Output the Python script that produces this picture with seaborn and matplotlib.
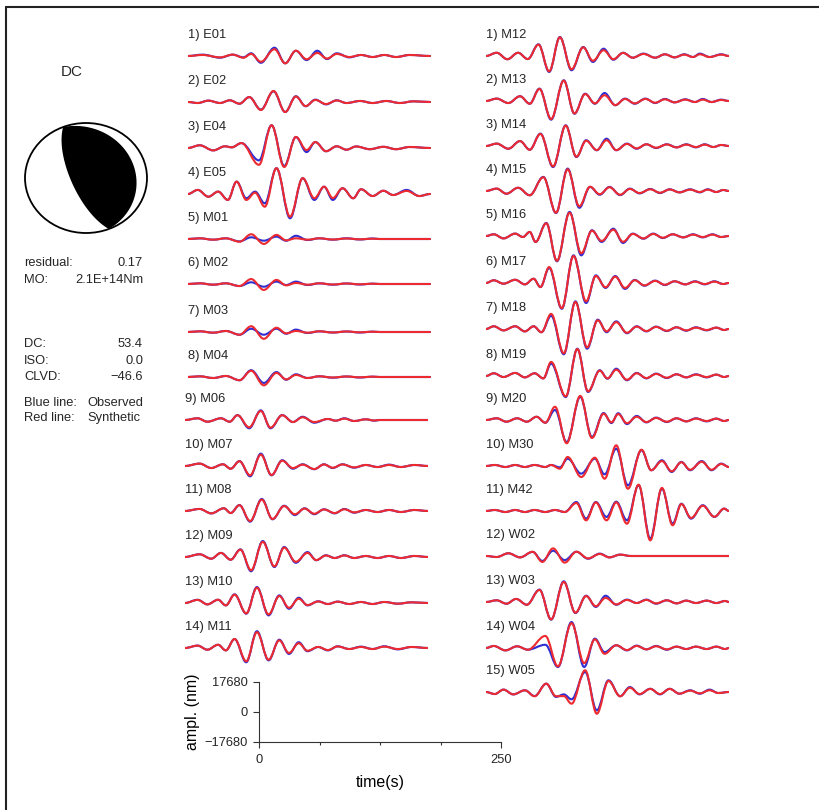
import numpy as np
import matplotlib
matplotlib.use("Agg")
import matplotlib.pyplot as plt
from matplotlib.path import Path
from matplotlib.patches import PathPatch, Circle
from matplotlib.lines import Line2D
import seaborn as sns

# ---- mechanism (DC part) ----
dc_strike = [158, 338]
dc_dip = [70, 20]

info_left = ["residual:", "MO:", "DC:", "ISO:", "CLVD:"]
info_right = ["0.17", "2.1E+14Nm", "53.4", "0.0", "\u221246.6"]

# ---- waveforms: extrema, time (s) / amplitude (nm) ----
e01_t = [0, 15, 33, 46, 57, 65, 75, 89, 100, 111, 122, 133, 143, 153, 166, 178, 190, 202, 214, 228, 249]
e01_obs = [0, 800, -1000, 800, -800, 1600, -4000, 4900, -4300, 3100, -2400, 3100, -1800, 1600, -800, 600, -600, 600, -600, 600, 0]
e01_syn = [0, 600, -800, 800, -1000, 1200, -3400, 4000, -4300, 3100, -1900, 1800, -1500, 1200, -600, 600, -600, 600, -600, 600, 0]

e02_t = [0, 10, 21, 33, 43, 53, 63, 75, 88, 100, 111, 121, 131, 142, 153, 163, 177, 190, 204, 218, 232, 249]
e02_obs = [0, -600, 800, -600, 1000, -1000, 2900, -4500, 6300, -5900, 3400, -2500, 1400, -1400, 1000, -600, 600, -600, 600, -600, 400, 0]
e02_syn = [0, -600, 800, -600, 1000, -1000, 2900, -4700, 6500, -5900, 3200, -2400, 1200, -1200, 900, -600, 600, -600, 600, -600, 400, 0]

e04_t = [0, 12, 26, 38, 45, 55, 73, 86, 99, 111, 122, 131, 142, 153, 163, 173, 187, 201, 214, 228, 249]
e04_obs = [0, 1600, -1400, 1000, 400, 2900, -7300, 13400, -10600, 6500, -2400, 3500, -1900, 1000, -1000, 900, -700, 700, -700, 600, 0]
e04_syn = [0, 1600, -1400, 1000, 400, 2900, -9900, 13400, -11200, 6500, -1200, 3500, -1900, 1000, -1000, 900, -700, 700, -700, 600, 0]

e05_t = [0, 10, 21, 31, 41, 50, 60, 69, 79, 91, 105, 118, 130, 140, 149, 159, 170, 178, 190, 201, 211, 225, 238, 249]
e05_obs = [0, 2400, -1600, 1400, -3500, 7300, -2500, 1400, -5500, 15200, -14300, 9300, -3500, 4300, -3500, 3400, -2500, 2800, -1200, 1900, -600, 2400, -1200, 0]
e05_syn = [0, 2400, -1600, 1400, -3500, 7300, -3500, 800, -7500, 15200, -13400, 9300, -2500, 4300, -2400, 3400, -2500, 2800, -1200, 1900, -600, 1800, -1200, 0]

m01_m04_t = [0, 12, 26, 39, 53, 65, 78, 91, 101, 111, 123, 135, 149, 163, 177, 190, 197, 249]
m01_obs = [0, 400, -400, 400, -1400, 1000, -1000, 1400, -1000, 1900, -600, 400, -400, 400, -300, 300, 0, 0]
m01_syn = [0, 400, -400, 400, -1600, 2800, -2900, 2400, -800, 400, -400, 400, -300, 300, -200, 200, 0, 0]
m02_obs = [0, 400, -400, 400, -1200, 1000, -1600, 1400, -600, 1400, -600, 400, -400, 300, -300, 200, 0, 0]
m02_syn = [0, 400, -400, 400, -1200, 2900, -3500, 2400, -800, 600, -400, 400, -300, 300, -200, 200, 0, 0]
m03_obs = [0, 400, -400, 600, -1600, 1900, -1600, 1900, -1000, 1400, -600, 400, -300, 300, -300, 200, 0, 0]
m03_syn = [0, 400, -400, 600, -1600, 3400, -4000, 2500, -800, 600, -400, 400, -300, 300, -200, 200, 0, 0]
m04_obs = [0, 400, -600, 600, -1900, 4000, -3500, 2900, -1600, 1600, -600, 400, -400, 300, -300, 200, 0, 0]
m04_syn = [0, 400, -600, 600, -1900, 3700, -4900, 2400, -1400, 1200, -600, 400, -300, 300, -200, 200, 0, 0]

m06_t = [0, 13, 23, 37, 46, 54, 66, 78, 88, 100, 111, 121, 133, 147, 155, 164, 174, 186, 195, 200, 250]
m06_obs = [0, 1000, -1000, 1000, -1000, 2900, -4900, 5700, -4900, 2900, -1200, 1900, -1600, 600, -400, 1000, -600, 400, -400, 0, 0]
m06_syn = [0, 1000, -1000, 1000, -1000, 2800, -4300, 5300, -4500, 2800, -1200, 1600, -1200, 600, -400, 800, -600, 400, -300, 0, 0]

m07_t = [0, 15, 27, 39, 47, 56, 67, 78, 89, 100, 111, 121, 133, 143, 152, 162, 174, 186, 198, 210, 222, 236, 250]
m07_obs = [0, 1400, -1200, 1000, -1600, 2900, -6100, 7300, -5500, 3400, -1600, 1000, -1900, 1000, -1200, 1000, -1000, 600, -600, 800, -600, 600, 0]
m07_syn = [0, 1400, -1200, 1000, -1600, 2800, -5500, 6700, -5300, 3100, -1200, 800, -1800, 900, -1000, 900, -800, 600, -600, 600, -600, 600, 0]

m08_t = [0, 15, 27, 40, 47, 56, 67, 79, 90, 102, 113, 123, 133, 143, 154, 164, 174, 186, 198, 210, 222, 236, 250]
m08_obs = [0, 1200, -1400, 1600, -1200, 3500, -6300, 7100, -4900, 3100, -2400, 1600, -1900, 1000, -1400, 1200, -1000, 600, -600, 600, -600, 600, 0]
m08_syn = [0, 1200, -1400, 1600, -1200, 3400, -5900, 6700, -4700, 2900, -1900, 1400, -1600, 900, -1200, 1000, -800, 600, -600, 600, -600, 600, 0]

m09_t = [0, 15, 27, 37, 47, 57, 68, 80, 92, 102, 114, 126, 135, 145, 154, 164, 174, 186, 198, 210, 222, 236, 250]
m09_obs = [0, 1600, -1000, 2400, -1600, 4500, -8400, 9400, -5900, 5900, -3400, 2900, -1900, 1000, -600, 1000, -600, 600, -600, 600, -600, 600, 0]
m09_syn = [0, 1600, -1000, 2400, -1600, 4300, -7800, 8900, -5500, 5500, -2800, 2400, -1800, 900, -600, 900, -600, 600, -600, 600, -600, 600, 0]

m10_m11_t = [0, 13, 23, 34, 42, 51, 63, 74, 86, 97, 107, 117, 126, 137, 147, 157, 169, 181, 193, 205, 219, 233, 250]
m10_obs = [0, 1900, -800, 1900, -1400, 5100, -6300, 9400, -7300, 4500, -3400, 3100, -1400, 1000, -600, 800, -600, 600, -600, 600, -400, 400, 0]
m10_syn = [0, 1800, -800, 1900, -1400, 4900, -6100, 9000, -6700, 4100, -2800, 2500, -1200, 900, -600, 800, -600, 600, -600, 600, -400, 400, 0]
m11_obs = [0, 1400, -1000, 1900, -1400, 5300, -8400, 9900, -7300, 4900, -3500, 3400, -1900, 600, -1400, 1000, -600, 800, -600, 1000, -800, 600, 0]
m11_syn = [0, 1400, -1000, 1900, -1400, 5300, -7800, 9300, -6900, 4500, -2900, 2800, -1600, 600, -1200, 900, -600, 600, -600, 800, -600, 600, 0]

m12_t = [0, 11, 22, 33, 43, 54, 65, 76, 88, 100, 110, 121, 131, 141, 151, 162, 174, 184, 194, 204, 213, 220, 230, 242, 250]
m12_obs = [0, 1900, -1900, 1900, -1800, 6900, -9400, 11200, -8400, 5300, -3500, 4300, -2200, 1900, -1000, 1400, -1000, 1000, -800, 1000, -600, 1400, -600, 1000, 0]
m12_syn = [0, 1900, -1900, 1900, -1800, 6700, -9000, 11000, -7800, 5100, -2800, 3400, -1900, 1800, -1000, 1200, -1000, 1000, -800, 800, -600, 1000, -600, 800, 0]

m13_t = [0, 11, 23, 35, 45, 55, 67, 80, 91, 102, 112, 122, 133, 143, 153, 164, 174, 184, 194, 205, 215, 223, 232, 242, 250]
m13_obs = [0, 1400, -1200, 2800, -1600, 7300, -11000, 12200, -7500, 4300, -1600, 4700, -2500, 1400, -1600, 1400, -1200, 1200, -800, 1000, -600, 1200, -600, 800, 0]
m13_syn = [0, 1400, -1200, 2800, -1600, 7100, -10600, 12000, -7300, 4100, -1400, 3400, -2400, 1200, -1400, 1200, -1000, 1000, -800, 800, -600, 800, -600, 600, 0]

m14_t = [0, 11, 23, 35, 45, 56, 69, 82, 93, 103, 114, 124, 134, 145, 155, 165, 175, 186, 196, 206, 216, 225, 234, 242, 250]
m14_obs = [0, 1400, -1600, 2900, -2200, 7300, -12400, 12200, -6500, 3400, -2500, 4300, -2500, 1400, -1600, 1000, -1200, 1000, -800, 1000, -800, 1000, -600, 600, 0]
m14_syn = [0, 1400, -1600, 2900, -2200, 7100, -12000, 12000, -6300, 3100, -2400, 3400, -2400, 1200, -1400, 1000, -1000, 900, -800, 800, -600, 800, -600, 600, 0]

m15_t = [0, 11, 21, 33, 45, 59, 72, 84, 96, 107, 117, 127, 138, 148, 158, 169, 179, 189, 199, 210, 220, 228, 237, 244, 250]
m15_obs = [0, 1400, -1600, 1900, -2500, 8300, -13000, 13200, -9900, 2400, -2200, 2400, -2400, 1400, -1400, 1200, -1200, 1000, -800, 1000, -800, 1000, -600, 600, 0]
m15_syn = [0, 1400, -1600, 1900, -2500, 8100, -12800, 12800, -9000, 2500, -1900, 2200, -2200, 1200, -1200, 1000, -1000, 900, -800, 800, -600, 800, -600, 600, 0]

m16_t = [0, 8, 18, 30, 38, 45, 51, 62, 73, 86, 98, 109, 119, 131, 141, 151, 162, 172, 182, 192, 203, 213, 223, 233, 242, 250]
m16_obs = [0, 1000, -1400, 1400, -600, 2400, -3500, 7700, -14900, 14200, -11400, 3400, -3500, 4300, -4100, 1400, -1600, 1400, -1200, 1000, -800, 1000, -800, 1000, -600, 0]
m16_syn = [0, 1000, -1400, 1400, -600, 2400, -3500, 7500, -14600, 13700, -10200, 3100, -2900, 3700, -3400, 1200, -1400, 1200, -1000, 1000, -800, 800, -600, 800, -600, 0]

m17_t = [0, 8, 18, 30, 40, 49, 56, 65, 78, 90, 103, 113, 123, 133, 143, 153, 163, 174, 184, 194, 205, 215, 225, 235, 244, 250]
m17_obs = [0, 1600, -400, 1900, -800, 2500, -2400, 8900, -15200, 16300, -11800, 4500, -2900, 4100, -3500, 1800, -1600, 1400, -1200, 1000, -800, 1000, -800, 1000, -600, 0]
m17_syn = [0, 1600, -400, 1900, -800, 2500, -2400, 9400, -14800, 15900, -10800, 4100, -2500, 3700, -2900, 1600, -1400, 1200, -1000, 1000, -800, 800, -600, 800, -600, 0]

m18_t = [0, 8, 18, 30, 40, 49, 57, 67, 80, 92, 104, 115, 124, 134, 145, 155, 165, 175, 186, 196, 206, 216, 227, 237, 245, 250]
m18_obs = [0, 1600, -800, 1600, -1400, 1600, -1900, 7800, -14900, 16300, -11600, 5500, -1900, 4500, -2500, 1600, -1400, 1400, -1200, 1000, -1000, 1000, -800, 800, -600, 0]
m18_syn = [0, 1600, -800, 1600, -1400, 1600, -1900, 8900, -14300, 15900, -10800, 5100, -1400, 4000, -2200, 1400, -1200, 1200, -1000, 1000, -800, 800, -600, 800, -600, 0]

m19_t = [0, 8, 18, 30, 40, 50, 59, 67, 82, 94, 105, 117, 125, 134, 145, 155, 165, 175, 186, 196, 206, 216, 227, 237, 245, 250]
m19_obs = [0, 1600, -600, 1800, -800, 1600, -1400, 7300, -12400, 16100, -9400, 3400, -1600, 4300, -2500, 1800, -1400, 1400, -1200, 1000, -800, 1000, -800, 800, -600, 0]
m19_syn = [0, 1600, -600, 1800, -800, 1600, -1400, 8300, -12000, 15900, -9000, 3100, -1400, 3700, -2200, 1600, -1200, 1200, -1000, 1000, -800, 800, -600, 800, -600, 0]

m20_t = [0, 11, 21, 32, 42, 52, 61, 71, 83, 97, 109, 121, 129, 136, 145, 155, 165, 175, 186, 196, 206, 216, 227, 237, 245, 250]
m20_obs = [0, 1000, -1000, 1000, -1000, 1900, -1600, 5900, -13000, 13700, -10000, 4100, -1800, 4000, -2400, 2400, -1400, 1400, -1200, 1000, -800, 1000, -800, 800, -600, 0]
m20_syn = [0, 1000, -1000, 1000, -1000, 1900, -1600, 7800, -13700, 14200, -10600, 3700, -1400, 3500, -1900, 1900, -1200, 1200, -1000, 1000, -800, 800, -600, 800, -600, 0]

m30_t = [0, 9, 20, 30, 40, 50, 61, 67, 76, 84, 98, 112, 122, 134, 146, 160, 170, 181, 191, 201, 210, 222, 232, 242, 250]
m30_obs = [0, 600, -600, 600, -600, 600, -600, 600, -800, 4300, -4500, 4300, -4900, 10200, -11400, 9300, -2500, 3400, -3500, 2400, -2500, 2900, -2500, 1400, -600]
m30_syn = [0, 600, -600, 600, -600, 600, -600, 600, -1600, 5300, -6500, 4900, -7500, 12200, -13400, 9600, -2500, 2900, -3100, 2200, -2200, 2500, -2200, 1200, -600]

m42_t = [0, 9, 20, 30, 40, 50, 61, 71, 81, 93, 103, 113, 124, 134, 145, 157, 169, 181, 192, 201, 211, 223, 235, 245, 250]
m42_obs = [0, 600, -600, 600, -600, 600, -600, 600, -600, 5300, -4500, 5300, -3500, 5500, -5500, 15200, -16300, 13200, -7500, 4300, -4500, 3400, -3500, 1400, 0]
m42_syn = [0, 600, -600, 600, -600, 600, -600, 600, -600, 4700, -5500, 5100, -5500, 5100, -7500, 15500, -17300, 13600, -8400, 4100, -4100, 3100, -3400, 1400, 0]

w02_t = [0, 11, 23, 35, 48, 58, 69, 81, 93, 105, 117, 127, 138, 149, 250]
w02_obs = [0, -600, 1600, -800, 2400, -2900, 3100, -2400, 2500, -1600, 1400, -800, 800, 0, 0]
w02_syn = [0, -600, 1600, -800, 2500, -3500, 4500, -3900, 2500, -1400, 1200, -800, 800, 0, 0]

w03_t = [0, 11, 21, 31, 42, 55, 67, 80, 92, 103, 113, 123, 134, 145, 155, 165, 175, 186, 196, 206, 216, 227, 237, 246, 250]
w03_obs = [0, 1000, -1000, 1800, -1600, 7300, -10400, 12200, -6500, 3700, -2900, 3700, -1600, 1400, -600, 1400, -1000, 1000, -800, 800, -600, 800, -600, 600, 0]
w03_syn = [0, 1000, -1000, 1800, -1600, 7100, -10200, 11800, -6300, 3500, -2500, 2400, -1400, 1200, -600, 1200, -800, 1000, -800, 800, -600, 800, -600, 600, 0]

w04_t = [0, 8, 20, 32, 43, 61, 74, 88, 101, 112, 122, 134, 145, 155, 165, 175, 186, 196, 206, 216, 227, 237, 246, 250]
w04_obs = [0, 1200, -1400, 1000, -1000, 1900, -11200, 15300, -11200, 5500, -2400, 1600, -1400, 1400, -800, 1200, -1000, 800, -600, 800, -600, 800, -600, 0]
w04_syn = [0, 1200, -1400, 1000, -1000, 7100, -10800, 14600, -8900, 5100, -3400, 1600, -1200, 1200, -800, 1000, -800, 800, -600, 800, -600, 800, -600, 0]

w05_t = [0, 9, 18, 28, 40, 50, 62, 72, 80, 88, 102, 114, 126, 138, 148, 158, 169, 179, 189, 199, 210, 220, 230, 239, 250]
w05_obs = [0, -1200, 1400, -1400, 1000, -2400, 4900, -2900, -1400, -4300, 11800, -10800, 6900, -2500, 2900, -1400, 1900, -1400, 1900, -1000, 1000, -1000, 1400, -600, 0]
w05_syn = [0, -1200, 1400, -1400, 1000, -2500, 4900, -2500, -2400, -6900, 12800, -12800, 6500, -2500, 2500, -1200, 1800, -1200, 1800, -1000, 800, -800, 1000, -600, 0]

left_traces = [
    ("1) E01", e01_t, e01_obs, e01_syn),
    ("2) E02", e02_t, e02_obs, e02_syn),
    ("3) E04", e04_t, e04_obs, e04_syn),
    ("4) E05", e05_t, e05_obs, e05_syn),
    ("5) M01", m01_m04_t, m01_obs, m01_syn),
    ("6) M02", m01_m04_t, m02_obs, m02_syn),
    ("7) M03", m01_m04_t, m03_obs, m03_syn),
    ("8) M04", m01_m04_t, m04_obs, m04_syn),
    ("9) M06", m06_t, m06_obs, m06_syn),
    ("10) M07", m07_t, m07_obs, m07_syn),
    ("11) M08", m08_t, m08_obs, m08_syn),
    ("12) M09", m09_t, m09_obs, m09_syn),
    ("13) M10", m10_m11_t, m10_obs, m10_syn),
    ("14) M11", m10_m11_t, m11_obs, m11_syn),
]
right_traces = [
    ("1) M12", m12_t, m12_obs, m12_syn),
    ("2) M13", m13_t, m13_obs, m13_syn),
    ("3) M14", m14_t, m14_obs, m14_syn),
    ("4) M15", m15_t, m15_obs, m15_syn),
    ("5) M16", m16_t, m16_obs, m16_syn),
    ("6) M17", m17_t, m17_obs, m17_syn),
    ("7) M18", m18_t, m18_obs, m18_syn),
    ("8) M19", m19_t, m19_obs, m19_syn),
    ("9) M20", m20_t, m20_obs, m20_syn),
    ("10) M30", m30_t, m30_obs, m30_syn),
    ("11) M42", m42_t, m42_obs, m42_syn),
    ("12) W02", w02_t, w02_obs, w02_syn),
    ("13) W03", w03_t, w03_obs, w03_syn),
    ("14) W04", w04_t, w04_obs, w04_syn),
    ("15) W05", w05_t, w05_obs, w05_syn),
]

AMP_SCALE = 17680          # nm shown by the scale bar
TRACE_LEN = 250            # s
BLUE, RED = "#2e2ed2", "#ec2a30"
FS = 9.3

sns.set_theme(style="ticks")
plt.rcParams["font.family"] = ["Liberation Sans", "DejaVu Sans"]

W, H = 819, 810
fig = plt.figure(figsize=(W / 100, H / 100), dpi=100)
fig.patch.set_facecolor("white")


def px_axes(x, y, w, h):
    ax = fig.add_axes([x / W, 1 - (y + h) / H, w / W, h / H])
    ax.patch.set_visible(False)
    return ax


def px_text(x, y, s, **kw):
    fig.text(x / W, 1 - y / H, s, va="center", **kw)


def wave_path(t, a):
    """Smooth path through the picked extrema (horizontal tangent at each)."""
    verts, codes = [(t[0], a[0])], [Path.MOVETO]
    for t0, a0, t1, a1 in zip(t[:-1], a[:-1], t[1:], a[1:]):
        h = 0.363 * (t1 - t0)
        verts += [(t0 + h, a0), (t1 - h, a1), (t1, a1)]
        codes += [Path.CURVE4] * 3
    return Path(verts, codes)


def draw_trace(x0, base, label, t, obs, syn):
    assert len(t) == len(obs) == len(syn), label
    ax = px_axes(x0, base - 50, 243, 100)
    ax.set_xlim(0, TRACE_LEN)
    lim = 50 / 30 * AMP_SCALE
    ax.set_ylim(-lim, lim)
    ax.axis("off")
    for a, c in ((obs, BLUE), (syn, RED)):
        ax.add_patch(PathPatch(wave_path(t, a), fill=False, ec=c, lw=1.5,
                               capstyle="round", joinstyle="round"))
    px_text(x0, base - 21, label, fontsize=FS, ha="left")


# frame
fig.add_artist(Line2D([6 / W, 6 / W], [0, 1 - 7 / H], color="#222222", lw=1.5))
fig.add_artist(Line2D([6 / W, 1], [1 - 7 / H, 1 - 7 / H], color="#222222", lw=1.5))

# traces
left_base = [56, 102, 148, 194, 239, 284, 332, 377, 420, 466, 511, 557, 603, 648]
right_base = [56, 101, 146, 191, 236, 283, 329, 376, 420, 466, 511, 556, 602, 648, 692]
for i, (lab, t, o, s) in enumerate(left_traces):
    draw_trace(188 if i < 8 else 185, left_base[i], lab, t, o, s)
for i, (lab, t, o, s) in enumerate(right_traces):
    draw_trace(486, right_base[i], lab, t, o, s)

# beachball (lower hemisphere, equal area)
def plane_curve(strike, dip, n=80):
    th = np.linspace(0, np.pi, n)
    phi, dl = np.radians(strike), np.radians(dip)
    north = np.cos(th) * np.cos(phi) - np.sin(th) * np.cos(dl) * np.sin(phi)
    east = np.cos(th) * np.sin(phi) + np.sin(th) * np.cos(dl) * np.cos(phi)
    down = np.sin(th) * np.sin(dl)
    plunge = np.arcsin(np.clip(down, -1, 1))
    trend = np.arctan2(east, north)
    r = np.sqrt(2) * np.sin((np.pi / 2 - plunge) / 2)
    return r * np.sin(trend), r * np.cos(trend)


bax = px_axes(25, 123, 122, 110)
bax.set_xlim(-1, 1)
bax.set_ylim(-1, 1)
bax.axis("off")
x1, y1 = plane_curve(dc_strike[0], dc_dip[0])
x2, y2 = plane_curve(dc_strike[1], dc_dip[1])
bax.fill(np.r_[x1, x2], np.r_[y1, y2], color="black", lw=0)
bax.add_patch(Circle((0, 0), 1, fill=False, ec="black", lw=1.3, clip_on=False))
px_text(72, 72, "DC", fontsize=11, ha="center")

# info text
info_y = [263, 280, 344, 361, 377]
for lab, val, y in zip(info_left, info_right, info_y):
    px_text(24, y, lab, fontsize=FS, ha="left")
    px_text(143, y, val, fontsize=FS, ha="right")
px_text(24, 403, "Blue line:", fontsize=FS, ha="left")
px_text(87, 403, "Observed", fontsize=FS, ha="left")
px_text(24, 418, "Red line:", fontsize=FS, ha="left")
px_text(87, 418, "Synthetic", fontsize=FS, ha="left")

# amplitude / time scale
sax = px_axes(259, 682, 242, 60)
sax.set_xlim(0, TRACE_LEN)
sax.set_ylim(-AMP_SCALE, AMP_SCALE)
sns.despine(ax=sax)
for sp in ("left", "bottom"):
    sax.spines[sp].set_linewidth(0.8)
    sax.spines[sp].set_color("#333333")
sax.set_xticks([0, TRACE_LEN])
sax.set_xticklabels(["0", "250"])
sax.set_xticks([62.5, 125, 187.5], minor=True)
sax.set_yticks([-AMP_SCALE, 0, AMP_SCALE])
sax.set_yticklabels(["\u221217680", "0", "17680"])
sax.tick_params(which="major", direction="out", length=4.3, width=0.8,
                color="#333333", labelsize=FS, pad=4, bottom=True, left=True)
sax.tick_params(which="minor", direction="out", length=2, width=0.8,
                color="#333333", bottom=True)
sax.set_xlabel("time(s)", fontsize=11.5, labelpad=7, color="black")
sax.set_ylabel("ampl. (nm)", fontsize=11.5, labelpad=3, color="black")

fig.savefig("out.png", dpi=100, facecolor="white")
